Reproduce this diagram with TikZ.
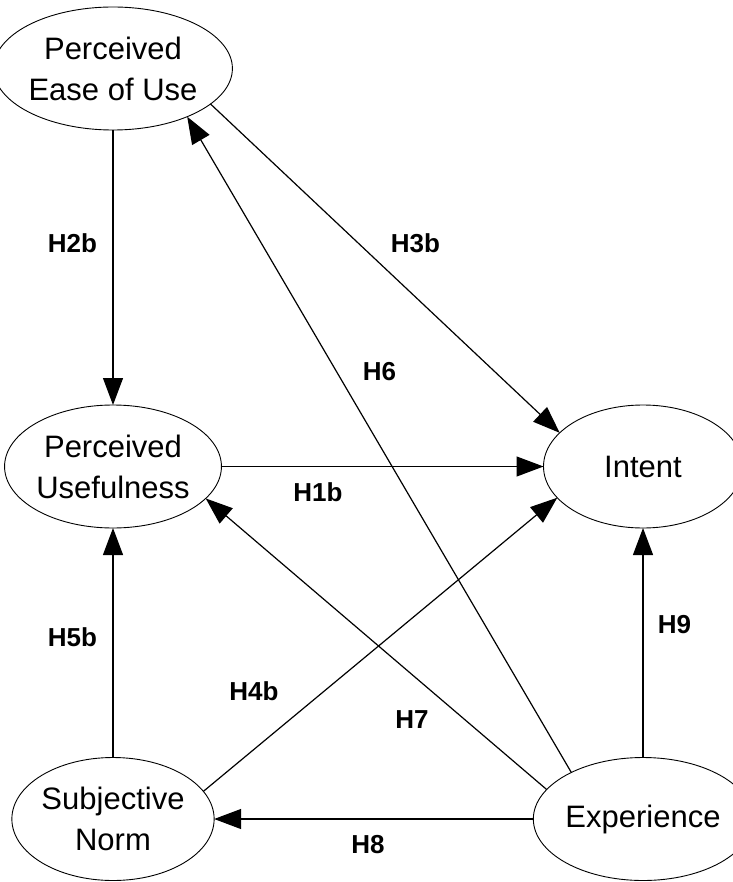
\documentclass[tikz,border=0pt]{standalone}
\usepackage{fontspec}
\setmainfont{Liberation Sans}
\usetikzlibrary{shapes.geometric,arrows.meta}
\tikzset{
  construct/.style={ellipse, draw, line width=0.9pt, minimum width=199pt, minimum height=123pt, inner sep=0pt, outer sep=0pt, align=center, font=\fontsize{31}{41}\selectfont},
  link/.style={line width=1.2pt, -{Triangle[length=27pt,width=20pt]}},
  hyp/.style={font=\fontsize{26}{30}\selectfont\bfseries, inner sep=0pt}
}
\begin{document}
\begin{tikzpicture}[x=1pt,y=-1pt]
\useasboundingbox (0,0) rectangle (732,882);
\node[construct] (peou) at (113,68.5) {Perceived\\Ease of Use};
\node[construct] (pu) at (113,466.5) {Perceived\\Usefulness};
\node[construct] (intent) at (643,466.5) {Intent};
\node[construct] (sn) at (113,819) {Subjective\\Norm};
\node[construct] (exp) at (643,819) {Experience};

\draw[link] (peou.south) -- (pu.north);
\draw[link] (peou.-20) -- (intent.158.5);
\draw[link] (exp.147) -- (peou.-33);
\draw[link] (exp.163) -- (pu.-19.3);
\draw[link] (sn.17) -- (intent.-160.7);
\draw[link] (pu.east) -- (intent.west);
\draw[link] (sn.north) -- (pu.south);
\draw[link] (exp.north) -- (intent.south);
\draw[link] (exp.west) -- (sn.east);

\node[hyp] (l2b) at (72.5,243) {H2b};
\node[hyp] (l3b) at (415.5,243) {H3b};
\node[hyp] (l6) at (379.5,372) {H6};
\node[hyp] (l1b) at (318,492.5) {H1b};
\node[hyp] (l5b) at (72.5,637.5) {H5b};
\node[hyp] (l9) at (674.5,624.5) {H9};
\node[hyp] (l4b) at (254,691) {H4b};
\node[hyp] (l7) at (412,720) {H7};
\node[hyp] (l8) at (368,845) {H8};
\end{tikzpicture}
\end{document}
